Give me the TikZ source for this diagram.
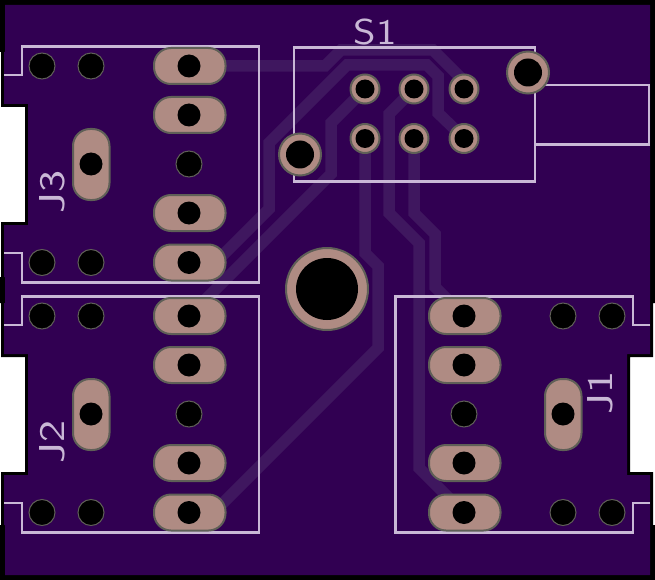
\documentclass[tikz,border=0pt]{standalone}
\usepackage[svgnames, dvipsnames]{xcolor}
\definecolor{boardpurple}{HTML}{310052}
\definecolor{tracepurple}{HTML}{3F175F}
\definecolor{silkline}{HTML}{C9B8D6}
\definecolor{padcopper}{HTML}{AF8B83}
\definecolor{padedge}{HTML}{5F5F57}

\tikzset{
  mytrace/.style={draw=tracepurple, line width=11.5pt, line join=miter},
  mysilk/.style={draw=silkline, line width=2.7pt, line join=miter},
  mylabel/.style={text=silkline, inner sep=0pt, font=\sffamily\fontsize{36}{36}\selectfont},
  mypad/.style={fill=padcopper, draw=padedge, line width=2pt},
  myhole/.style={fill=black, draw=padedge, line width=1pt},
}
\newcommand{\widepad}[2]{
  \draw[mypad, rounded corners=17pt] ({#1-35},{#2-18}) rectangle ({#1+36.5},{#2+18});
  \fill[black] (#1,#2) circle (11.5);
}
\newcommand{\tallpad}[2]{
  \draw[mypad, rounded corners=17pt] ({#1-18},{#2-35}) rectangle ({#1+18.5},{#2+36});
  \fill[black] (#1,#2) circle (11.5);
}

\begin{document}
\begin{tikzpicture}[x=1pt, y=-1pt]
\useasboundingbox (0,0) rectangle (655,580);
\fill[white] (0,0) rectangle (655,580);

\fill[black] (0,0) -- (655,0) -- (655,303) -- (653,303) -- (653,357) -- (630,357) -- (630,472) -- (653,472)
    -- (653,525) -- (655,525) -- (655,580) -- (0,580) -- (0,525) -- (1,525) -- (1,472) -- (25,472) -- (25,357)
    -- (1,357) -- (1,303) -- (0,303) -- (0,277) -- (1,277) -- (1,222) -- (25,222) -- (25,107) -- (1,107)
    -- (1,52) -- (0,52) -- cycle;
\fill[boardpurple] (5,5) -- (650,5) -- (650,354) -- (627,354) -- (627,475) -- (650,475) -- (650,575) -- (5,575)
    -- (5,525) -- (4,525) -- (4,475) -- (28,475) -- (28,354) -- (4,354) -- (4,303) -- (5,303) -- (5,277)
    -- (4,277) -- (4,225) -- (28,225) -- (28,104) -- (4,104) -- (4,52) -- (5,52) -- cycle;

\draw[mytrace] (189,66) -- (325,66) -- (341,50) -- (433,50) -- (464,81) -- (464,89);
\draw[mytrace] (216,262) -- (269,209) -- (269,143) -- (347,65) -- (427,65) -- (438,76) -- (438,113) -- (464,138);
\draw[mytrace] (365,89) -- (331,123) -- (331,174) -- (189,316);
\draw[mytrace] (365,138) -- (365,253) -- (378,266) -- (378,348) -- (213,513);
\draw[mytrace] (414,89) -- (389,114) -- (389,213) -- (419,243) -- (419,468) -- (464,513);
\draw[mytrace] (414,138) -- (414,213) -- (435,234) -- (435,287) -- (464,316);

\foreach \dy in {0,250} {
  \draw[mysilk] (4,75+\dy) -- (22,75+\dy) -- (22,46.5+\dy) -- (259,46.5+\dy) -- (259,282.5+\dy) -- (22,282.5+\dy)
      -- (22,253+\dy) -- (4,253+\dy);
}
\draw[mysilk] (650,325) -- (633,325) -- (633,296.5) -- (395.5,296.5) -- (395.5,532.5) -- (633,532.5) -- (633,503) -- (650,503);
\draw[mysilk] (294,47.5) rectangle (535,181.5);
\draw[mysilk] (535,85) -- (649,85) -- (649,144.5) -- (535,144.5);

\node[mylabel, xscale=1.2] (labelS) at (375,32) {S1};
\node[mylabel, yscale=1.3, rotate=90] (labelJc) at (52.5,192) {J3};
\node[mylabel, yscale=1.3, rotate=90] (labelJb) at (52.5,442) {J2};
\node[mylabel, yscale=1.3, rotate=90] (labelJa) at (600.5,393) {J1};

\foreach \dy in {0,250} {
  \foreach \py in {66,115,213,262.5} {
    \widepad{189}{\py+\dy}
  }
  \tallpad{91}{164+\dy}
  \draw[myhole] (189,164+\dy) circle (13);
  \foreach \px in {42,91} {
    \draw[myhole] (\px,66+\dy) circle (13);
    \draw[myhole] (\px,262.5+\dy) circle (13);
  }
}
\foreach \py in {316,365,463,512.5} {
  \widepad{464}{\py}
}
\tallpad{563}{414}
\draw[myhole] (464,414) circle (13);
\foreach \px in {563,612} {
  \draw[myhole] (\px,316) circle (13);
  \draw[myhole] (\px,512.5) circle (13);
}

\foreach \px in {365,414,464} {
  \foreach \py in {89,138.5} {
    \draw[mypad] (\px,\py) circle (14.5);
    \fill[black] (\px,\py) circle (9.5);
  }
}
\foreach \px/\py in {300/154.5, 528/72.5} {
  \draw[mypad] (\px,\py) circle (21);
  \fill[black] (\px,\py) circle (14);
}
\draw[mypad] (327,289) circle (41);
\fill[black] (327,289) circle (31);
\end{tikzpicture}
\end{document}
